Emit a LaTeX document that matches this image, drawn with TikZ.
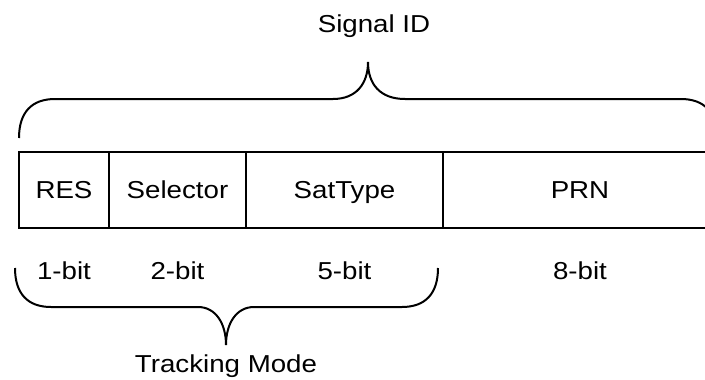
\documentclass[tikz,border=0pt]{standalone}
\usepackage{fontspec}
\setmainfont[FakeStretch=1.13]{Liberation Sans}
\usetikzlibrary{positioning}

\begin{document}
\begin{tikzpicture}[x=1pt,y=-1pt,line width=2pt,
    lbl/.style={font=\fontsize{24.5}{29}\selectfont, inner sep=0pt, anchor=base}]
    \useasboundingbox (0,0) rectangle (705,380);

    % fields of the signal id
    \draw[line width=2.4pt] (19,152) rectangle (717,228);
    \foreach \x in {109,246,443}
        \draw[line width=2.4pt] (\x,152) -- (\x,228);

    \node[lbl] (res) at (64,198.5) {RES};
    \node[lbl] (sel) at (177.5,198.5) {Selector};
    \node[lbl] (sat) at (344.5,198.5) {SatType};
    \node[lbl] (prn) at (580,198.5) {PRN};

    % bit widths
    \node[lbl] (resbits) at (64,279) {1-bit};
    \node[lbl] (selbits) at (177.5,279) {2-bit};
    \node[lbl] (satbits) at (344.5,279) {5-bit};
    \node[lbl] (prnbits) at (580,279) {8-bit};

    % upper brace
    \coordinate (sigtip) at (368,62);
    \draw (19,138) .. controls (19,112) and (32,99) .. (55,99) -- (333,99)
        .. controls (356,99) and (368,84) .. (sigtip)
        .. controls (368,84) and (380,99) .. (405,99) -- (681,99)
        .. controls (704,99) and (717,112) .. (717,138);
    \node[lbl] (sigid) at (374,32.5) {Signal ID};

    % lower brace
    \coordinate (tracktip) at (226,345);
    \draw (15,268) .. controls (15,294) and (28,307) .. (51,307) -- (198,307)
        .. controls (216,307) and (226,324) .. (tracktip)
        .. controls (226,324) and (236,307) .. (254,307) -- (402,307)
        .. controls (425,307) and (438,294) .. (438,268);
    \node[lbl] (track) at (226,372) {Tracking Mode};
\end{tikzpicture}
\end{document}
